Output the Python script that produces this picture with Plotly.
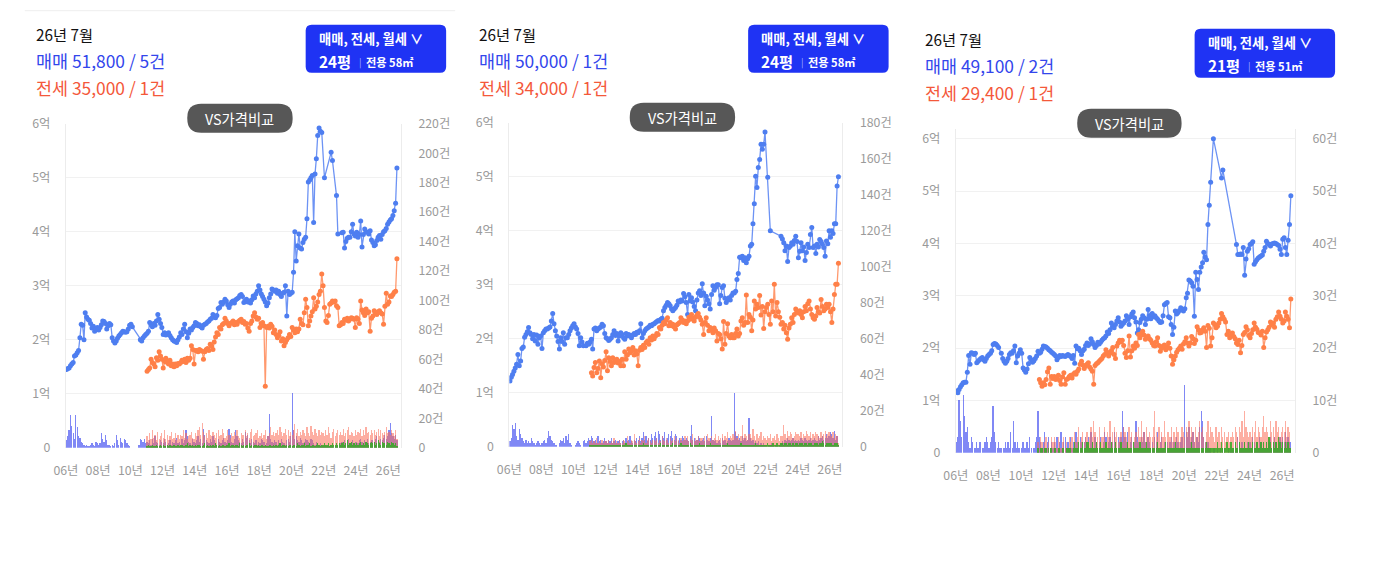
import plotly.graph_objects as go
import pandas as pd

W, H = 1377, 568
FONT = "Noto Sans CJK KR, Noto Sans, sans-serif"

# ---------------- common categories / ticks ----------------
START_ALL = "2006-01"      # first month of 매매 series and 매매 count bars
START_RENT = "2011-01"     # first month of 전세 series and 전세/월세 count bars
x_tick_years = list(range(2006, 2027, 2))
x_tick_text = [f"{y % 100:02d}년" for y in x_tick_years]
left_tick_vals = [0, 1, 2, 3, 4, 5, 6]
left_tick_text = ["0", "1억", "2억", "3억", "4억", "5억", "6억"]

# ---------------- panel 1 ----------------
p1_header = ["26년 7월", "매매 51,800 / 5건", "전세 35,000 / 1건"]
p1_button = ["매매, 전세, 월세 ∨", "24평", "전용 58㎡"]
p1_right_ticks = list(range(0, 221, 20))
p1_sale = [  # 억, monthly from 2006-01
    1.45, 1.47, 1.48, 1.52, 1.55, 1.58, 1.70, 1.72, 1.76, 1.80, 2.04, 2.29,
    2.27, 2.00, 2.50, 2.42, 2.38, 2.36, 2.30, 2.22, 2.25, 2.16, 2.20, 2.23,
    2.18, 2.23, 2.28, 2.35, 2.34, 2.30, 2.20, 2.26, 2.30, 2.28, 2.04, 1.98,
    1.94, 1.98, 2.03, 2.07, 2.10, 2.13, 2.16, 2.15, 2.14, 2.15, 2.20, 2.27,
    2.29, 2.24, None, None, None, None, None, 2.00, 1.98, 2.04, 2.07, 2.10,
    2.12, 2.16, 2.32, 2.28, 2.24, 2.30, 2.27, 2.35, 2.47, 2.38, 2.30, 2.23,
    2.10, 2.13, 2.09, 2.11, 2.13, 2.08, 2.04, 2.00, 1.98, 1.97, 1.95, 2.00,
    2.05, 2.13, 2.10, 2.20, 2.29, 2.15, 2.04, 2.12, 2.20, 2.18, 2.23, 2.26,
    2.32, 2.30, 2.26, 2.28, 2.24, 2.22, 2.27, 2.29, 2.30, 2.33, 2.35, 2.38,
    2.40, 2.47, 2.44, 2.41, 2.45, 2.58, 2.60, 2.69, 2.66, 2.70, 2.75, 2.72,
    2.65, 2.60, 2.66, 2.70, 2.72, 2.68, 2.74, 2.76, 2.78, 2.82, 2.84, 2.80,
    2.69, 2.72, 2.75, 2.70, 2.72, 2.68, 2.74, 2.81, 2.78, 2.85, 2.90, 3.00,
    2.92, 2.85, 2.80, 2.75, 2.70, 2.63, 2.68, 2.78, 2.85, 2.94, 2.92, 2.90,
    2.92, 2.86, 2.90, 2.84, 2.80, 2.86, 2.88, 3.00, 2.44, 2.90, 2.84, 2.86,
    2.88, 3.25, 4.00, 3.46, 3.74, 3.96, 3.70, 3.68, 3.80, 3.86, 3.90, 4.24,
    4.92, 4.96, 5.00, 5.04, 4.17, 5.07, 5.35, 5.78, 5.92, 5.86, 5.84, None,
    5.00, None, None, None, None, 5.47, 5.32, None, None, 4.67, 3.96, None,
    None, 3.98, 3.99, 3.70, 3.82, 3.88, 3.90, 3.90, 4.00, 4.14, 3.96, 3.92,
    3.99, 3.90, 3.95, 4.20, 3.72, 3.95, 4.05, 4.00, 3.99, 3.96, 4.02, 3.85,
    3.80, 3.74, 3.76, 3.84, 3.90, 3.93, 3.86, 3.95, 4.00, 4.02, 4.06, 4.14,
    4.18, 4.22, 4.24, 4.30, 4.39, 4.53, 5.18,
]
p1_jeonse = [  # 억, monthly from 2011-01
    1.42, 1.45, 1.48, 1.64, 1.58, 1.55, 1.50, 1.67, 1.62, 1.78, 1.70, 1.64,
    1.48, 1.60, 1.66, 1.58, 1.55, 1.62, 1.52, 1.55, 1.50, 1.55, 1.52, 1.56,
    1.55, 1.58, 1.62, 1.60, 1.64, 1.58, 1.66, 1.62, 1.66, 1.89, 1.82, 1.55,
    1.80, 1.80, 1.78, 1.82, 1.80, 1.79, 1.64, 1.78, 1.82, 1.84, 1.80, 1.92,
    1.88, 1.82, 1.96, 2.05, 2.13, 2.10, 2.23, 2.20, 2.28, 2.30, 2.40, 2.35,
    2.30, 2.26, 2.30, 2.32, 2.35, 2.28, 2.32, 2.29, 2.34, 2.36, 2.38, 2.32,
    2.34, 2.29, 2.30, 2.22, 2.16, 2.30, 2.35, 2.44, 2.50, 2.42, 2.38, 2.40,
    2.23, 2.30, 2.32, 2.26, 1.14, 2.23, 2.25, 2.22, 2.29, 2.25, 2.13, 2.18,
    2.10, 2.04, 2.08, 2.15, 1.98, 2.02, 1.89, 1.95, 2.00, 2.04, 2.10, 2.06,
    2.23, 2.18, 2.13, 2.20, 2.15, 2.20, 2.38, 2.30, 2.28, 2.50, 2.75, 2.60,
    2.26, 2.35, 2.44, 2.52, 2.78, 2.57, 2.62, 2.70, 2.84, 2.90, 3.22, 3.00,
    2.60, 2.35, 2.32, 2.45, 2.66, 2.68, 2.72, 2.70, 2.72, 2.63, 2.60, 2.26,
    2.28, 2.32, 2.30, 2.38, 2.36, 2.40, 2.35, 2.38, 2.41, 2.40, 2.38, 2.23,
    2.41, 2.38, 2.30, 2.72, 2.55, 2.50, 2.45, 2.57, 2.50, 2.52, 2.16, 2.40,
    2.44, 2.54, 2.50, 2.47, 2.52, 2.54, 2.50, 2.48, 2.29, 2.62, 2.86, 2.66,
    2.70, 2.81, 2.80, 2.84, 2.88, 2.90, 3.50,
]
p1_sale_cnt = [  # 건, monthly from 2006-01
    5, 8, 12, 22, 15, 10, 6, 22, 14, 8, 7, 4,
    3, 2, 1, 2, 1, 1, 2, 3, 2, 1, 4, 3,
    2, 3, 10, 6, 4, 9, 5, 2, 2, 1, 2, 1,
    3, 9, 5, 2, 7, 4, 3, 6, 5, 3, 2, 1,
    0, 0, 0, 0, 0, 0, 2, 6, 5, 4, 6, 3,
    4, 3, 5, 2, 6, 3, 8, 4, 3, 2, 5, 4,
    3, 6, 4, 2, 3, 5, 2, 4, 3, 5, 7, 3,
    4, 2, 6, 3, 5, 12, 8, 4, 3, 2, 6, 4,
    3, 5, 8, 4, 6, 3, 13, 9, 5, 4, 3, 6,
    4, 8, 5, 3, 2, 6, 4, 3, 5, 7, 4, 3,
    5, 13, 9, 4, 3, 6, 12, 8, 5, 4, 3, 6,
    4, 11, 7, 9, 5, 3, 6, 4, 3, 5, 2, 4,
    3, 6, 5, 4, 2, 3, 8, 23, 6, 4, 3, 5,
    4, 2, 5, 3, 6, 4, 3, 2, 5, 6, 4, 8,
    37, 12, 6, 8, 5, 4, 7, 5, 3, 4, 6, 5,
    4, 3, 6, 5, 3, 2, 4, 3, 2, 3, 2, 1,
    2, 1, 1, 2, 1, 2, 1, 0, 1, 2, 1, 2,
    3, 4, 2, 5, 3, 4, 6, 3, 4, 5, 3, 4,
    4, 3, 5, 6, 4, 3, 5, 4, 6, 3, 4, 5,
    5, 4, 6, 8, 5, 4, 6, 5, 7, 9, 6, 8,
    12, 17, 10, 8, 6, 9, 5,
]
p1_jeonse_cnt = [  # 건, monthly from 2011-01
    8, 5, 10, 6, 12, 7, 9, 5, 11, 6, 8, 10,
    7, 12, 6, 9, 5, 8, 11, 6, 7, 10, 5, 9,
    6, 9, 8, 12, 7, 10, 6, 8, 9, 11, 7, 6,
    10, 8, 12, 14, 9, 17, 11, 8, 10, 7, 12, 9,
    8, 11, 9, 7, 10, 12, 8, 9, 13, 10, 7, 8,
    12, 9, 7, 10, 8, 11, 9, 12, 8, 7, 10, 9,
    9, 12, 8, 10, 7, 11, 13, 8, 9, 10, 12, 7,
    8, 10, 7, 9, 12, 6, 8, 10, 14, 9, 11, 8,
    10, 12, 9, 14, 11, 8, 10, 13, 9, 12, 8, 11,
    9, 12, 16, 10, 13, 8, 11, 9, 12, 10, 8, 14,
    10, 8, 15, 11, 9, 13, 10, 8, 12, 9, 11, 10,
    8, 12, 9, 14, 10, 7, 11, 13, 8, 10, 12, 9,
    11, 9, 13, 8, 10, 12, 14, 9, 11, 10, 8, 12,
    9, 11, 10, 13, 8, 12, 9, 14, 10, 11, 9, 12,
    10, 12, 9, 11, 13, 8, 12, 10, 9, 11, 14, 10,
    11, 9, 12, 10, 8, 12, 6,
]
p1_monthly_cnt = [  # 월세 건, monthly from 2011-01
    1, 2, 1, 1, 2, 1, 1, 2, 1, 1, 2, 1,
    2, 1, 1, 2, 1, 2, 1, 1, 2, 1, 1, 2,
    1, 2, 2, 1, 1, 2, 3, 1, 2, 1, 2, 1,
    2, 1, 2, 2, 1, 1, 2, 3, 1, 2, 1, 2,
    1, 2, 1, 3, 2, 1, 2, 1, 2, 2, 1, 2,
    2, 3, 1, 2, 2, 1, 2, 2, 1, 3, 2, 1,
    2, 1, 2, 2, 3, 1, 2, 1, 2, 2, 1, 2,
    1, 2, 2, 1, 2, 1, 1, 2, 2, 1, 2, 1,
    2, 1, 2, 3, 1, 2, 2, 1, 2, 1, 2, 2,
    1, 2, 2, 1, 3, 2, 1, 2, 2, 3, 1, 2,
    2, 3, 1, 2, 2, 1, 2, 3, 2, 1, 2, 2,
    3, 2, 2, 3, 1, 2, 3, 2, 2, 3, 2, 3,
    2, 3, 4, 2, 3, 5, 2, 3, 4, 2, 3, 2,
    3, 2, 3, 4, 2, 3, 2, 4, 3, 2, 3, 4,
    3, 4, 2, 3, 5, 3, 2, 4, 3, 3, 2, 4,
    3, 2, 4, 3, 2, 3, 1,
]

# ---------------- panel 2 ----------------
p2_header = ["26년 7월", "매매 50,000 / 1건", "전세 34,000 / 1건"]
p2_button = ["매매, 전세, 월세 ∨", "24평", "전용 58㎡"]
p2_right_ticks = list(range(0, 181, 20))
p2_sale = [
    1.22, 1.29, 1.34, 1.40, 1.46, 1.53, 1.71, 1.50, 1.59, 1.82, 1.85, 2.03,
    2.08, 2.13, 2.21, 2.11, 2.08, 2.00, 2.08, 1.96, 2.07, 1.90, 2.02, 2.05,
    1.82, 2.11, 2.15, 2.18, 2.18, 2.20, 2.22, 2.33, 2.47, 2.28, 2.15, 2.05,
    1.95, 1.81, 2.02, 1.95, 2.11, 1.90, 2.02, 2.02, 2.08, 2.15, 2.20, 2.24,
    2.28, 2.22, 2.18, 2.10, 1.87, 2.02, 1.94, 1.87, None, 1.87, 1.92, 1.90,
    1.94, 1.99, 1.81, 2.18, 2.20, 2.15, 2.18, 2.20, 2.22, 2.27, 2.24, 2.10,
    2.02, 2.00, 1.97, 1.99, 2.02, 2.08, 2.15, 2.06, 2.10, 1.96, 2.05, 2.11,
    2.08, 2.02, 1.99, 2.10, 2.05, 2.08, 2.06, 2.02, 2.07, 2.10, 2.08, 2.12,
    2.11, 2.15, 2.28, 2.02, 2.10, 2.15, 2.18, 2.20, 2.22, 2.25, 2.24, 2.27,
    2.28, 2.30, 2.32, 2.34, 2.33, 2.36, 2.38, 2.52, 2.58, 2.62, 2.67, 2.65,
    2.61, 2.55, 2.52, 2.55, 2.58, 2.62, 2.70, 2.68, 2.72, 2.70, 2.84, 2.78,
    2.67, 2.45, 2.82, 2.70, 2.76, 2.68, 2.60, 2.52, 2.72, 2.85, 2.89, 2.80,
    3.02, 2.85, 2.61, 2.79, 2.72, 2.65, 2.55, 2.82, 2.98, 2.90, 2.95, 3.00,
    3.00, 2.65, 2.80, 2.95, 2.98, 2.75, 2.67, 2.72, 2.76, 2.72, 2.80, 2.85,
    2.85, 2.88, 3.10, 3.21, 3.51, 3.50, 3.53, 3.45, 3.50, 3.41, 3.48, 3.53,
    3.72, 3.75, 4.13, 4.50, 5.01, 4.80, 5.17, 5.32, 5.60, 5.51, 5.60, 5.83,
    None, 4.99, None, 4.00, None, None, None, None, None, None, None, 3.90,
    3.85, 3.78, 3.63, 3.72, 3.43, 3.69, 3.72, 3.78, 3.75, 3.82, 3.90, 3.80,
    3.50, 3.62, 3.78, 3.63, 3.70, 3.45, 3.60, 3.75, 3.69, 3.93, 4.06, 3.69,
    3.72, 3.58, 3.75, 3.70, 3.84, 3.80, 3.75, 3.69, 3.53, 3.81, 3.76, 4.00,
    3.88, 4.00, 3.95, 4.13, 4.13, 4.83, 5.00,
]
p2_jeonse = [
    None, 1.37, 1.31, 1.47, 1.56, 1.37, 1.45, 1.59, 1.28, 1.54, 1.48, 1.60,
    1.76, 1.41, 1.65, 1.58, 1.50, 1.65, 1.56, 1.60, 1.62, 1.55, 1.58, 1.50,
    1.62, 1.50, 1.76, 1.62, 1.70, 1.81, 1.74, 1.78, 1.84, 1.70, 1.78, 1.72,
    1.50, 1.79, 1.84, 1.80, 1.88, 1.84, 1.93, 1.96, 1.90, 2.02, 1.98, 2.05,
    2.00, 2.05, 2.10, 2.08, 2.21, 2.18, 2.25, 2.30, 2.28, 2.35, 2.39, 2.24,
    2.30, 2.24, 2.27, 2.22, 2.18, 2.26, 2.28, 2.30, 2.39, 2.35, 2.30, 2.33,
    2.28, 2.33, 2.40, 2.36, 2.45, 2.38, 2.33, 2.40, 2.44, 2.47, 2.40, 2.35,
    2.27, 2.08, 2.30, 2.39, 2.25, 2.15, 2.21, 2.18, 2.11, 2.20, 2.15, 1.96,
    2.10, 2.08, 2.00, 1.81, 2.32, 1.90, 2.10, 2.28, 2.05, 2.02, 2.08, 2.02,
    2.02, 2.10, 2.18, 2.05, 2.10, 2.33, 2.39, 2.25, 2.30, 2.81, 2.30, 2.45,
    2.40, 2.15, 2.35, 2.70, 2.55, 2.64, 2.58, 2.80, 2.44, 2.60, 2.19, 2.50,
    2.58, 2.64, 2.45, 2.27, 2.70, 2.50, 3.01, 2.42, 2.67, 2.50, 2.40, 2.27,
    2.30, 2.18, 2.25, 2.11, 1.99, 2.20, 2.27, 2.39, 2.30, 2.45, 2.55, 2.50,
    2.48, 2.52, 2.45, 2.39, 2.50, 2.60, 2.52, 2.65, 2.70, 2.55, 2.45, 2.39,
    2.36, 2.42, 2.58, 2.50, 2.48, 2.73, 2.60, 2.52, 2.55, 2.64, 2.58, 2.64,
    2.50, 2.30, 2.55, 2.82, 3.01, 3.01, 3.40,
]
p2_sale_cnt = [
    3, 5, 12, 10, 13, 6, 4, 10, 7, 5, 3, 2,
    4, 2, 3, 2, 5, 3, 2, 1, 2, 3, 2, 1,
    2, 3, 4, 2, 5, 9, 6, 4, 3, 2, 1, 1,
    0, 2, 4, 3, 5, 2, 6, 4, 7, 2, 1, 0,
    0, 1, 2, 3, 2, 1, 0, 3, 4, 2, 3, 5,
    4, 6, 5, 3, 4, 2, 6, 3, 4, 2, 3, 5,
    3, 2, 4, 3, 5, 2, 3, 4, 2, 3, 4, 2,
    3, 4, 2, 5, 3, 4, 6, 3, 2, 4, 3, 5,
    4, 6, 3, 5, 8, 4, 6, 3, 5, 4, 7, 5,
    6, 8, 5, 9, 7, 4, 6, 5, 8, 4, 5, 7,
    6, 9, 5, 4, 7, 6, 3, 5, 4, 6, 5, 4,
    5, 4, 3, 6, 12, 4, 5, 3, 4, 6, 5, 3,
    4, 5, 3, 6, 4, 3, 5, 17, 4, 3, 4, 2,
    3, 4, 2, 5, 3, 4, 2, 3, 5, 4, 3, 4,
    30, 8, 6, 4, 5, 3, 6, 4, 5, 3, 4, 16,
    5, 3, 4, 2, 3, 2, 3, 1, 2, 1, 2, 1,
    1, 0, 1, 1, 2, 1, 0, 1, 1, 0, 1, 2,
    3, 2, 4, 3, 5, 4, 3, 4, 5, 3, 4, 3,
    4, 3, 5, 4, 3, 5, 4, 3, 4, 5, 3, 4,
    5, 4, 3, 6, 4, 5, 6, 4, 5, 7, 5, 6,
    8, 7, 5, 9, 4, 6, 1,
]
p2_jeonse_cnt = [
    3, 4, 2, 3, 2, 5, 2, 3, 2, 4, 2, 3,
    3, 2, 4, 2, 3, 2, 5, 2, 3, 2, 4, 2,
    2, 4, 3, 2, 6, 3, 2, 4, 3, 7, 3, 2,
    3, 5, 2, 4, 3, 6, 2, 4, 5, 3, 2, 4,
    4, 3, 5, 2, 4, 3, 6, 4, 3, 5, 4, 2,
    5, 3, 4, 6, 3, 5, 4, 2, 5, 3, 4, 6,
    4, 6, 3, 5, 4, 7, 3, 5, 4, 6, 3, 5,
    5, 3, 6, 4, 7, 5, 3, 6, 4, 5, 7, 4,
    6, 4, 5, 7, 4, 6, 5, 8, 4, 6, 5, 7,
    6, 9, 5, 7, 4, 6, 12, 5, 7, 6, 4, 7,
    7, 5, 10, 6, 4, 7, 5, 6, 8, 4, 6, 5,
    4, 6, 5, 7, 3, 5, 6, 4, 7, 5, 3, 6,
    6, 12, 7, 5, 9, 6, 8, 7, 5, 6, 8, 7,
    7, 6, 8, 5, 7, 6, 9, 7, 6, 8, 5, 7,
    6, 8, 7, 6, 5, 8, 6, 7, 9, 6, 7, 8,
    7, 6, 8, 5, 7, 6, 2,
]
p2_monthly_cnt = [
    1, 1, 1, 1, 1, 1, 1, 1, 1, 1, 1, 1,
    1, 1, 1, 1, 1, 1, 1, 1, 1, 1, 1, 1,
    1, 1, 1, 2, 1, 1, 1, 1, 1, 1, 1, 1,
    1, 1, 1, 1, 2, 1, 1, 1, 1, 1, 1, 1,
    1, 1, 1, 1, 1, 2, 1, 1, 1, 1, 1, 1,
    1, 1, 2, 1, 1, 1, 1, 1, 2, 1, 1, 1,
    1, 1, 1, 2, 1, 1, 1, 1, 1, 1, 2, 1,
    1, 1, 1, 1, 1, 1, 2, 1, 1, 1, 1, 1,
    1, 1, 1, 1, 1, 1, 1, 2, 1, 1, 1, 1,
    1, 1, 1, 1, 1, 2, 1, 1, 1, 1, 1, 1,
    1, 1, 1, 1, 2, 1, 1, 1, 1, 1, 1, 1,
    1, 2, 1, 1, 1, 2, 1, 1, 2, 1, 1, 2,
    2, 1, 2, 2, 1, 2, 2, 1, 2, 1, 2, 2,
    1, 2, 2, 2, 1, 2, 2, 1, 2, 2, 2, 1,
    2, 2, 2, 1, 2, 2, 3, 2, 1, 2, 2, 2,
    2, 2, 1, 2, 2, 2, 1,
]

# ---------------- panel 3 ----------------
p3_header = ["26년 7월", "매매 49,100 / 2건", "전세 29,400 / 1건"]
p3_button = ["매매, 전세, 월세 ∨", "21평", "전용 51㎡"]
p3_right_ticks = list(range(0, 61, 10))
p3_sale = [
    1.18, 1.15, 1.21, 1.26, 1.30, 1.34, 1.35, 1.35, 1.54, 1.86, 1.69, 1.91,
    1.90, 1.88, 1.90, 1.72, 1.75, 1.78, 1.80, 1.82, 1.78, 1.75, 1.80, 1.85,
    1.88, 1.90, 1.95, 2.07, 2.09, 2.08, 2.05, 2.01, None, 1.90, 1.80, 1.75,
    1.71, 1.75, 1.80, 1.88, 1.91, 1.90, 1.95, 2.04, 1.72, 1.85, 1.90, 1.97,
    1.90, 1.62, 1.58, 1.54, 1.60, 1.70, 1.82, 1.78, 1.73, 1.76, 1.80, 1.85,
    1.94, 1.90, 1.92, 1.98, 2.04, 2.03, 2.02, 2.00, 1.97, 1.95, 1.92, 1.90,
    1.88, 1.85, 1.78, 1.82, 1.86, 1.84, 1.86, 1.85, 1.84, 1.86, 1.88, 1.86,
    1.84, 1.80, 1.86, 1.71, 2.04, 1.99, 2.00, 1.95, 1.88, 1.95, 1.98, 2.05,
    2.10, 2.05, 2.08, 2.18, 2.12, 2.07, 2.01, 2.05, 2.11, 2.08, 2.11, 2.15,
    2.18, 2.20, 2.23, 2.31, 2.28, 2.35, 2.48, 2.42, 2.39, 2.45, 2.52, 2.58,
    2.50, 2.42, 2.45, 2.48, 2.52, 2.62, 2.55, 2.45, 2.60, 2.65, 2.69, 2.58,
    2.50, 2.29, 2.35, 2.49, 2.55, 2.62, 2.58, 2.45, 2.55, 2.74, 2.62, 2.56,
    2.66, 2.60, 2.62, 2.58, 2.55, 2.52, 2.49, 2.50, 2.62, 2.83, 2.85, 2.87,
    2.60, 2.58, 2.45, 2.26, 2.40, 2.71, 2.65, 2.68, 2.72, 2.77, 2.74, 2.71,
    2.75, 2.96, 3.05, 3.30, 3.28, 3.25, 3.18, 2.61, 3.45, 3.31, 3.12, 3.45,
    3.55, 3.63, 3.83, 3.74, 3.69, 4.36, 4.73, 5.17, None, 6.00, None, None,
    None, None, None, 5.25, 5.40, None, None, None, None, None, None, None,
    None, None, 3.98, 3.79, 3.79, 3.80, 3.79, 3.92, 3.39, 3.70, 3.85, 3.90,
    3.98, 4.00, 4.03, 3.60, 3.65, 3.69, 3.72, 3.74, 3.76, 3.78, 3.85, 3.92,
    4.04, 4.00, 3.98, 3.95, 3.99, 4.00, 4.01, 4.00, 3.98, 3.96, 3.89, 3.79,
    4.08, 4.11, 3.92, 3.79, 4.06, 4.36, 4.91,
]
p3_jeonse = [
    None, 1.40, 1.34, 1.27, 1.34, 1.30, 1.40, 1.55, 1.62, 1.31, 1.46, 1.42,
    1.46, 1.40, 1.44, 1.48, 1.38, 1.31, 1.45, 1.53, 1.31, 1.40, 1.42, 1.46,
    1.48, 1.43, 1.50, 1.53, 1.50, 1.56, 1.60, 1.69, 1.75, 1.68, 1.61, 1.66,
    1.69, 1.72, 1.64, 1.60, 1.56, 1.31, 1.67, 1.70, 1.72, 1.75, 1.78, 1.80,
    1.85, 1.88, 1.97, 1.92, 1.85, 1.90, 1.95, 2.01, 1.88, 1.80, 2.04, 2.10,
    2.15, 2.12, 2.15, 2.05, 1.90, 1.82, 1.95, 2.23, 1.83, 1.95, 2.04, 2.00,
    2.10, 2.05, 2.26, 2.20, 2.28, 2.32, 2.25, 2.17, 2.20, 2.23, 2.18, 2.15,
    2.10, 2.05, 2.04, 2.12, 2.20, 2.05, 1.94, 2.00, 2.04, 2.06, 1.97, 2.02,
    2.10, 2.00, 1.85, 1.69, 1.78, 1.85, 1.92, 1.97, 2.00, 2.04, 1.98, 2.08,
    2.12, 2.20, 2.10, 2.04, 2.10, 2.22, 2.18, 2.09, 2.15, 2.41, 2.35, 2.29,
    2.30, 2.35, 2.39, 2.32, 2.01, 2.43, 2.38, 2.04, 2.20, 2.48, 2.45, 2.39,
    2.42, 2.48, 2.55, 2.66, 2.60, 2.55, 2.50, 2.26, 2.32, 2.20, 2.25, 2.29,
    2.22, 2.18, 2.10, 2.07, 2.15, 1.91, 2.05, 2.26, 2.30, 2.41, 2.35, 2.24,
    2.20, 2.28, 2.35, 2.48, 2.40, 2.36, 2.30, 2.29, 2.25, 2.32, 2.01, 2.20,
    2.31, 2.35, 2.40, 2.50, 2.45, 2.48, 2.40, 2.55, 2.60, 2.69, 2.61, 2.55,
    2.48, 2.52, 2.69, 2.61, 2.55, 2.39, 2.94,
]
p3_sale_cnt = [
    2, 3, 10, 6, 3, 11, 7, 4, 5, 2, 1, 3,
    2, 1, 1, 2, 1, 2, 2, 1, 1, 2, 3, 2,
    1, 2, 3, 9, 4, 2, 1, 2, 1, 1, 0, 1,
    2, 1, 2, 1, 4, 1, 6, 2, 1, 2, 1, 0,
    1, 2, 1, 1, 2, 1, 3, 1, 0, 1, 2, 3,
    8, 3, 2, 1, 2, 4, 1, 2, 3, 1, 2, 1,
    2, 1, 3, 1, 2, 4, 1, 2, 3, 1, 2, 1,
    3, 1, 2, 1, 4, 2, 1, 3, 2, 1, 2, 3,
    2, 3, 1, 4, 2, 1, 3, 2, 1, 2, 3, 1,
    2, 4, 3, 1, 2, 3, 1, 2, 4, 2, 1, 3,
    2, 3, 8, 5, 3, 2, 4, 1, 2, 3, 1, 2,
    6, 3, 2, 1, 3, 2, 4, 2, 1, 3, 2, 1,
    2, 1, 3, 2, 4, 1, 2, 3, 1, 2, 1, 2,
    1, 2, 3, 1, 2, 1, 3, 2, 1, 2, 3, 1,
    13, 4, 3, 5, 2, 3, 4, 2, 1, 3, 2, 5,
    8, 6, 3, 2, 1, 2, 1, 1, 0, 1, 1, 0,
    1, 0, 1, 0, 1, 1, 0, 0, 1, 0, 1, 1,
    1, 2, 1, 3, 2, 1, 2, 1, 2, 1, 2, 1,
    2, 1, 3, 2, 1, 2, 1, 3, 2, 1, 2, 1,
    2, 1, 2, 3, 1, 2, 3, 2, 1, 2, 3, 2,
    3, 2, 4, 2, 3, 2, 2,
]
p3_jeonse_cnt = [
    2, 1, 3, 2, 1, 2, 3, 1, 2, 1, 3, 2,
    3, 2, 1, 3, 2, 1, 2, 3, 1, 2, 1, 3,
    2, 3, 1, 4, 2, 3, 5, 2, 3, 4, 2, 3,
    4, 2, 3, 5, 3, 6, 4, 2, 3, 5, 2, 3,
    3, 5, 2, 4, 3, 6, 2, 4, 5, 3, 4, 2,
    3, 4, 2, 5, 4, 3, 2, 5, 3, 4, 2, 3,
    4, 2, 5, 3, 6, 3, 4, 2, 5, 3, 4, 3,
    3, 5, 8, 4, 3, 5, 2, 4, 3, 6, 3, 4,
    4, 3, 5, 2, 4, 3, 5, 4, 2, 3, 5, 4,
    3, 5, 4, 6, 3, 5, 4, 2, 5, 3, 4, 6,
    4, 5, 3, 2, 4, 6, 3, 5, 4, 3, 2, 5,
    3, 4, 2, 5, 3, 4, 2, 3, 4, 2, 3, 4,
    3, 5, 4, 3, 5, 4, 6, 3, 8, 5, 4, 3,
    4, 3, 5, 4, 6, 3, 5, 4, 3, 5, 7, 4,
    5, 4, 3, 6, 4, 5, 3, 6, 4, 5, 3, 4,
    5, 4, 6, 3, 5, 4, 1,
]
p3_monthly_cnt = [
    1, 0, 1, 1, 0, 1, 1, 0, 1, 1, 1, 0,
    1, 1, 0, 1, 1, 0, 1, 1, 0, 1, 1, 1,
    1, 0, 1, 2, 1, 1, 2, 1, 1, 2, 1, 1,
    2, 2, 1, 1, 2, 1, 1, 2, 1, 1, 2, 1,
    1, 1, 2, 1, 1, 1, 2, 1, 1, 2, 1, 1,
    1, 2, 1, 1, 1, 1, 2, 1, 1, 1, 2, 1,
    1, 1, 1, 2, 1, 1, 1, 1, 2, 1, 1, 1,
    1, 1, 1, 1, 2, 1, 1, 1, 1, 1, 2, 1,
    1, 1, 1, 1, 1, 2, 1, 1, 1, 1, 1, 1,
    1, 1, 1, 1, 1, 2, 1, 1, 1, 1, 1, 1,
    1, 1, 1, 1, 2, 1, 1, 1, 1, 1, 1, 1,
    2, 1, 1, 2, 1, 1, 1, 2, 1, 1, 2, 1,
    1, 2, 1, 1, 2, 1, 1, 1, 2, 1, 1, 2,
    1, 1, 2, 1, 1, 2, 1, 1, 2, 1, 2, 1,
    2, 1, 3, 2, 1, 2, 1, 2, 1, 3, 2, 1,
    2, 1, 2, 1, 2, 1, 1,
]

panels = [
    dict(header=p1_header, button=p1_button, right_ticks=p1_right_ticks,
         sale=p1_sale, jeonse=p1_jeonse, sale_cnt=p1_sale_cnt,
         jeonse_cnt=p1_jeonse_cnt, monthly_cnt=p1_monthly_cnt),
    dict(header=p2_header, button=p2_button, right_ticks=p2_right_ticks,
         sale=p2_sale, jeonse=p2_jeonse, sale_cnt=p2_sale_cnt,
         jeonse_cnt=p2_jeonse_cnt, monthly_cnt=p2_monthly_cnt),
    dict(header=p3_header, button=p3_button, right_ticks=p3_right_ticks,
         sale=p3_sale, jeonse=p3_jeonse, sale_cnt=p3_sale_cnt,
         jeonse_cnt=p3_jeonse_cnt, monthly_cnt=p3_monthly_cnt),
]

# ---------------- layout geometry (target pixels in the photographed page) ----------------
geom = [
    dict(plot=(66, 123, 400, 447), ytop=6.0, text_x=34, text_y=(33, 60, 87),
         btn=(305, 24, 445, 72), pill=(187, 103, 292, 132)),
    dict(plot=(508, 122, 840, 446), ytop=6.0, text_x=476, text_y=(33, 60, 87),
         btn=(746, 24, 886, 72), pill=(628, 102, 733, 131)),
    dict(plot=(953, 128, 1291, 452), ytop=6.19, text_x=920, text_y=(38, 65, 92),
         btn=(1191, 28, 1331, 77), pill=(1074, 108, 1178, 137)),
]

# calibration of page -> photo (the photo shows the page slightly scaled and offset)
SX, OX = 0.988, 12.3
SY, OY = 0.968, 9.3
FS = 1 / ((SX + SY) / 2)   # font compensation


def X(px):
    return ((px - OX) / SX) / W


def Y(py):
    return 1 - ((py - OY) / SY) / H


def fs(v):
    return round(v * FS, 1)


def month_dates(start, n):
    return pd.date_range(start + "-01", periods=n, freq="MS") + pd.Timedelta(days=14)


def rrect(x0, y0, x1, y1, r):
    return (f"M {X(x0 + r)},{Y(y0)} L {X(x1 - r)},{Y(y0)} Q {X(x1)},{Y(y0)} {X(x1)},{Y(y0 + r)} "
            f"L {X(x1)},{Y(y1 - r)} Q {X(x1)},{Y(y1)} {X(x1 - r)},{Y(y1)} "
            f"L {X(x0 + r)},{Y(y1)} Q {X(x0)},{Y(y1)} {X(x0)},{Y(y1 - r)} "
            f"L {X(x0)},{Y(y0 + r)} Q {X(x0)},{Y(y0)} {X(x0 + r)},{Y(y0)} Z")


BLUE_LINE = "rgba(84,128,242,0.85)"
BLUE_MK = "rgb(78,126,240)"
ORANGE_LINE = "rgba(255,135,85,0.85)"
ORANGE_MK = "rgb(255,128,72)"
BLUE_BAR = "rgba(60,72,240,0.65)"
ORANGE_BAR = "rgba(252,108,85,0.55)"
GREEN_BAR = "rgba(50,170,35,0.85)"
TICK_FONT = dict(family=FONT, size=fs(12), color="#9a9a9a")

fig = go.Figure()
layout = dict(
    width=W, height=H, margin=dict(l=0, r=0, t=0, b=0),
    paper_bgcolor="white", plot_bgcolor="white",
    showlegend=False, barmode="overlay", bargap=0,
    font=dict(family=FONT), hovermode=False,
    shapes=[], annotations=[],
)
x_tick_dates = [f"{y}-01-01" for y in x_tick_years]

for i, (p, g) in enumerate(zip(panels, geom)):
    xid = "x" if i == 0 else f"x{i + 1}"
    yl = f"y{2 * i + 1}" if i > 0 else "y"
    yr = f"y{2 * i + 2}"
    xkey = "xaxis" if i == 0 else f"xaxis{i + 1}"
    ylkey = "yaxis" if i == 0 else f"yaxis{2 * i + 1}"
    yrkey = f"yaxis{2 * i + 2}"
    x0, y0, x1, y1 = g["plot"]

    d_all_sale = month_dates(START_ALL, len(p["sale"]))
    d_all_cnt = month_dates(START_ALL, len(p["sale_cnt"]))
    d_rent = month_dates(START_RENT, len(p["jeonse"]))
    d_rent_cnt = month_dates(START_RENT, len(p["jeonse_cnt"]))
    d_rent_m = month_dates(START_RENT, len(p["monthly_cnt"]))

    fig.add_trace(go.Scatter(x=d_all_sale, y=p["sale"], xaxis=xid, yaxis=yl,
                             mode="lines+markers", connectgaps=True,
                             line=dict(color=BLUE_LINE, width=1.3),
                             marker=dict(color=BLUE_MK, size=5), name="매매"))
    fig.add_trace(go.Scatter(x=d_rent, y=p["jeonse"], xaxis=xid, yaxis=yl,
                             mode="lines+markers", connectgaps=True,
                             line=dict(color=ORANGE_LINE, width=1.3),
                             marker=dict(color=ORANGE_MK, size=5), name="전세"))
    fig.add_trace(go.Bar(x=d_all_cnt, y=p["sale_cnt"], xaxis=xid, yaxis=yr,
                         marker=dict(color=BLUE_BAR, line=dict(width=0)), name="매매 건수"))
    fig.add_trace(go.Bar(x=d_rent_cnt, y=p["jeonse_cnt"], xaxis=xid, yaxis=yr,
                         marker=dict(color=ORANGE_BAR, line=dict(width=0)), name="전세 건수"))
    fig.add_trace(go.Bar(x=d_rent_m, y=p["monthly_cnt"], xaxis=xid, yaxis=yr,
                         marker=dict(color=GREEN_BAR, line=dict(width=0)), name="월세 건수"))

    rmax = p["right_ticks"][-1]
    layout[xkey] = dict(
        domain=[X(x0), X(x1)], anchor=yl, type="date",
        range=["2006-01-01", "2026-10-15"],
        tickvals=x_tick_dates, ticktext=x_tick_text, tickfont=TICK_FONT,
        showgrid=False, zeroline=False, showline=False,
        ticks="outside", ticklen=11, tickcolor="rgba(0,0,0,0)",
    )
    layout[ylkey] = dict(
        domain=[Y(y1), Y(y0)], anchor=xid, range=[0, g["ytop"]],
        tickvals=left_tick_vals, ticktext=left_tick_text, tickfont=TICK_FONT,
        showgrid=True, gridcolor="#f1f1f1", gridwidth=1, zeroline=False,
        showline=True, linecolor="#ececec", linewidth=1,
        ticks="outside", ticklen=12, tickcolor="rgba(0,0,0,0)",
    )
    layout[yrkey] = dict(
        domain=[Y(y1), Y(y0)], anchor=xid, overlaying=yl, side="right",
        range=[0, rmax * g["ytop"] / 6.0],
        tickvals=p["right_ticks"],
        ticktext=["0"] + [f"{v}건" for v in p["right_ticks"][1:]],
        tickfont=TICK_FONT, showgrid=False, zeroline=False,
        showline=True, linecolor="#ececec", linewidth=1,
        ticks="outside", ticklen=14, tickcolor="rgba(0,0,0,0)",
    )

    tx = g["text_x"]
    ty = g["text_y"]
    hdr_styles = [(15, "#111111"), (17, "#3346ec"), (17, "#f4583a")]
    for txt, yy, (sz, col) in zip(p["header"], ty, hdr_styles):
        layout["annotations"].append(dict(
            x=X(tx), y=Y(yy), xref="paper", yref="paper", text=txt,
            showarrow=False, xanchor="left", yanchor="middle",
            font=dict(family=FONT, size=fs(sz), color=col)))

    bx0, by0, bx1, by1 = g["btn"]
    layout["shapes"].append(dict(type="path", path=rrect(bx0, by0, bx1, by1, 6),
                                 xref="paper", yref="paper", fillcolor="#1f33f4",
                                 line=dict(width=0), layer="above"))
    layout["annotations"].append(dict(
        x=X(bx0 + 11), y=Y(by0 + 14), xref="paper", yref="paper",
        text="<b>" + p["button"][0] + "</b>", showarrow=False,
        xanchor="left", yanchor="middle", font=dict(family=FONT, size=fs(13), color="white")))
    layout["annotations"].append(dict(
        x=X(bx0 + 11), y=Y(by0 + 36), xref="paper", yref="paper",
        text="<b>" + p["button"][1] + "</b>", showarrow=False,
        xanchor="left", yanchor="middle", font=dict(family=FONT, size=fs(15), color="white")))
    layout["annotations"].append(dict(
        x=X(bx0 + 51), y=Y(by0 + 37), xref="paper", yref="paper",
        text="|", showarrow=False, xanchor="left", yanchor="middle",
        font=dict(family=FONT, size=fs(9), color="rgba(255,255,255,0.6)")))
    layout["annotations"].append(dict(
        x=X(bx0 + 58), y=Y(by0 + 37), xref="paper", yref="paper",
        text="<b>" + p["button"][2] + "</b>", showarrow=False,
        xanchor="left", yanchor="middle", font=dict(family=FONT, size=fs(11), color="white")))

    qx0, qy0, qx1, qy1 = g["pill"]
    layout["shapes"].append(dict(type="path", path=rrect(qx0, qy0, qx1, qy1, 14),
                                 xref="paper", yref="paper", fillcolor="#575757",
                                 line=dict(width=0), layer="above"))
    layout["annotations"].append(dict(
        x=X((qx0 + qx1) / 2), y=Y((qy0 + qy1) / 2), xref="paper", yref="paper",
        text="VS가격비교", showarrow=False, xanchor="center", yanchor="middle",
        font=dict(family=FONT, size=fs(14), color="white")))

layout["shapes"].append(dict(type="line", xref="paper", yref="paper",
                             x0=X(25), x1=X(454), y0=Y(10), y1=Y(10),
                             line=dict(color="#eeeeee", width=1)))

fig.update_layout(**layout)
fig.write_html(
    "out.html",
    config={"displayModeBar": False, "staticPlot": True},
    post_script=("document.documentElement.style.margin='0';"
                 "document.documentElement.style.overflow='hidden';"
                 "document.body.style.margin='0';"
                 "document.body.style.overflow='hidden';"),
)
